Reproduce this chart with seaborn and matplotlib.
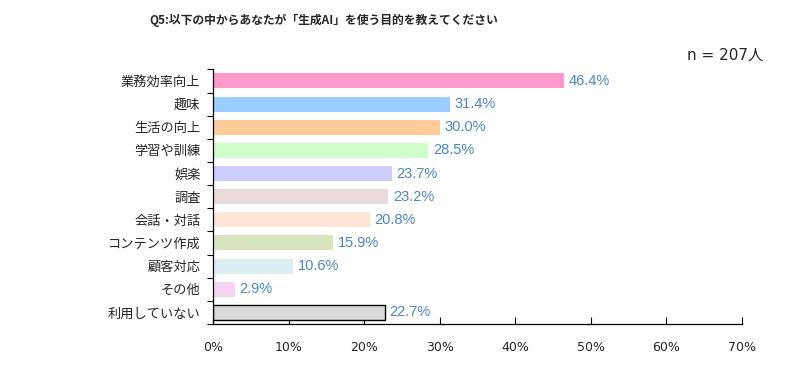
import matplotlib
matplotlib.use("Agg")
import matplotlib.pyplot as plt
import seaborn as sns
import pandas as pd
import numpy as np

categories = ["業務効率向上", "趣味", "生活の向上", "学習や訓練", "娯楽", "調査",
              "会話・対話", "コンテンツ作成", "顧客対応", "その他", "利用していない"]
values = [46.4, 31.4, 30.0, 28.5, 23.7, 23.2, 20.8, 15.9, 10.6, 2.9, 22.7]
colors = ["#FF99CC", "#99CCFF", "#FFCC99", "#CCFFCC", "#CCCCFF", "#EAD9D9",
          "#FDE5D7", "#D7E4BD", "#DBEEF4", "#F5D3F3", "#D9D9D9"]
xticks = [0, 10, 20, 30, 40, 50, 60, 70]

sns.set_theme(style="white")
plt.rcParams['font.family'] = ['Noto Sans CJK JP', 'DejaVu Sans']

df = pd.DataFrame({"cat": categories, "val": values})
fig = plt.figure(figsize=(7.99, 3.69), dpi=100)
ax = fig.add_axes([0.2666, 0.122, 0.662, 0.69])
sns.barplot(data=df, y="cat", x="val", hue="cat", palette=colors, legend=False,
            width=0.65, ax=ax, saturation=1)

for i, p in enumerate(ax.patches):
    if i == len(categories) - 1:
        p.set_edgecolor("black")
        p.set_linewidth(1.0)
    else:
        p.set_linewidth(0)

for i, v in enumerate(values):
    ax.text(v + 0.6, i, f"{v:.1f}%", va="center", ha="left", color="#4A86C8",
            fontsize=10.5, family=["Liberation Sans", "DejaVu Sans"])

ax.set_xlim(0, 70)
ax.set_ylim(len(categories) - 0.5, -0.5)
ax.set_xticks(xticks)
ax.set_xticklabels([f"{t}%" for t in xticks], fontsize=9, family=["DejaVu Sans"])
ax.set_yticks(np.arange(len(categories)))
ax.set_yticklabels(categories, fontsize=9.5)
ax.tick_params(axis="y", length=0, pad=9)
ax.set_yticks(np.arange(len(categories) + 1) - 0.5, minor=True)
ax.tick_params(axis="y", which="minor", direction="out", length=4, width=0.8, color="black", left=True)
ax.tick_params(axis="x", direction="in", length=5, width=0.8, color="black", bottom=True, pad=12)
ax.set_xlabel("")
ax.set_ylabel("")
for s in ["top", "right"]:
    ax.spines[s].set_visible(False)
for s in ["left", "bottom"]:
    ax.spines[s].set_color("black")
    ax.spines[s].set_linewidth(0.9)
ax.grid(False)

fig.text(0.405, 0.945, "Q5:以下の中からあなたが「生成AI」を使う目的を教えてください",
         ha="center", va="center", fontsize=8.5, fontweight="bold")
fig.text(0.955, 0.85, "n = 207人", ha="right", va="center", fontsize=11,
         family=["DejaVu Sans", "Noto Sans CJK JP"])

fig.savefig("out.png", dpi=100)
